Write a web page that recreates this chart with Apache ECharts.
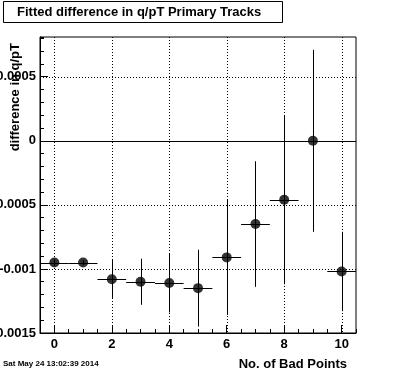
<!DOCTYPE html>
<html>
<head>
<meta charset="utf-8">
<script src="https://cdn.jsdelivr.net/npm/echarts@6/dist/echarts.min.js"></script>
<style>
html,body{margin:0;padding:0;background:#fff;}
#main{width:396px;height:372px;}
</style>
</head>
<body>
<div id="main"></div>
<script>
// ---- data ----
const badPoints = [0, 1, 2, 3, 4, 5, 6, 7, 8, 9, 10];
const meanDiff  = [-0.00095, -0.00095, -0.00108, -0.00110, -0.00111, -0.00115, -0.00091, -0.00065, -0.00046, 0.0000, -0.00102];
const diffError = [0.00002, 0.00002, 0.00015, 0.00018, 0.00023, 0.00030, 0.00045, 0.00049, 0.00066, 0.00071, 0.00031];
const binHalfWidth = [0.5, 0.5, 0.5, 0.5, 0.5, 0.5, 0.5, 0.5, 0.5, 0.5, 0.5];
const xTickValues = [0, 2, 4, 6, 8, 10];
const yTickValues = [-0.0015, -0.001, -0.0005, 0, 0.0005];
const yGridValues = [-0.0015, -0.001, -0.0005, 0.0005];
const xMin = -0.5, xMax = 10.5, yMin = -0.0015, yMax = 0.00081;

const FONT = '"Liberation Sans", Arial, Helvetica, sans-serif';
const chart = echarts.init(document.getElementById('main'), null, {renderer: 'canvas'});

const points = badPoints.map((x, i) => [x, meanDiff[i], binHalfWidth[i], diffError[i]]);
const px = v => Math.round(v) + 0.5;

function gridLineV(params, api) {
  const cs = params.coordSys;
  const p = api.coord([api.value(0), 0]);
  const x = px(p[0]);
  return {type: 'line', shape: {x1: x, y1: cs.y, x2: x, y2: cs.y + cs.height},
    style: {stroke: '#000', lineWidth: 1, lineDash: [1, 2]}, silent: true};
}
function gridLineH(params, api) {
  const cs = params.coordSys;
  const p = api.coord([0, api.value(0)]);
  const y = px(p[1]);
  const solid = api.value(1) === 1;
  return {type: 'line', shape: {x1: cs.x, y1: y, x2: cs.x + cs.width, y2: y},
    style: {stroke: '#000', lineWidth: 1, lineDash: solid ? null : [1, 2]}, silent: true};
}
function errorBars(params, api) {
  const x = api.value(0), y = api.value(1), ex = api.value(2), ey = api.value(3);
  const l = api.coord([x - ex, y]), r = api.coord([x + ex, y]);
  const t = api.coord([x, y + ey]), b = api.coord([x, y - ey]);
  const cy = px(l[1]), cx = px(t[0]);
  return {type: 'group', children: [
    {type: 'line', shape: {x1: l[0], y1: cy, x2: r[0], y2: cy}, style: {stroke: '#000', lineWidth: 1}},
    {type: 'line', shape: {x1: cx, y1: t[1], x2: cx, y2: b[1]}, style: {stroke: '#000', lineWidth: 1}}
  ]};
}

const labelStyle = {color: '#000', fontFamily: FONT, fontWeight: 'bold', fontSize: 13};

chart.setOption({
  animation: false,
  backgroundColor: '#fff',
  grid: {left: 40, top: 37, right: 40, bottom: 39, containLabel: false, outerBoundsMode: 'none',
         show: true, borderColor: '#000', borderWidth: 1, backgroundColor: 'transparent'},
  xAxis: [
    {type: 'value', min: xMin, max: xMax, interval: 0.5, position: 'bottom',
     axisLine: {show: true, onZero: false, lineStyle: {color: '#000', width: 1}},
     axisTick: {show: true, inside: true, length: 4, lineStyle: {color: '#000'}},
     axisLabel: {show: false}, splitLine: {show: false}},
    {type: 'value', min: xMin, max: xMax, position: 'bottom',
     axisLine: {show: false, onZero: false},
     axisTick: {show: true, inside: true, length: 8, customValues: xTickValues, lineStyle: {color: '#000'}},
     axisLabel: Object.assign({show: true, margin: 5, customValues: xTickValues, formatter: v => String(v)}, labelStyle),
     splitLine: {show: false}}
  ],
  yAxis: [
    {type: 'value', min: yMin, max: yMax, interval: 0.0001, position: 'left',
     axisLine: {show: true, onZero: false, lineStyle: {color: '#000', width: 1}},
     axisTick: {show: true, inside: true, length: 4, lineStyle: {color: '#000'}},
     axisLabel: {show: false}, splitLine: {show: false}},
    {type: 'value', min: yMin, max: yMax, position: 'left',
     axisLine: {show: false, onZero: false},
     axisTick: {show: true, inside: true, length: 8, customValues: yTickValues, lineStyle: {color: '#000'}},
     axisLabel: Object.assign({show: true, margin: 4, customValues: yTickValues,
       formatter: v => String(Math.round(v * 1e5) / 1e5)}, labelStyle),
     splitLine: {show: false}}
  ],
  graphic: [
    {type: 'rect', shape: {x: 3.5, y: 1.5, width: 279, height: 21}, style: {fill: '#fff', stroke: '#000', lineWidth: 1}, z: 10},
    {type: 'text', x: 17, y: 12, style: {text: 'Fitted difference in q/pT Primary Tracks', fill: '#000', font: 'bold 13px ' + FONT, verticalAlign: 'middle'}, z: 11},
    {type: 'text', x: 15, y: 43, rotation: Math.PI / 2, style: {text: 'difference in q/pT', fill: '#000', font: 'bold 13px ' + FONT, align: 'right', verticalAlign: 'middle'}, z: 11},
    {type: 'text', x: 347, y: 364, style: {text: 'No. of Bad Points', fill: '#000', font: 'bold 13px ' + FONT, align: 'right', verticalAlign: 'middle'}, z: 11},
    {type: 'text', x: 3, y: 364, style: {text: 'Sat May 24 13:02:39 2014', fill: '#000', font: 'bold 8px ' + FONT, verticalAlign: 'middle'}, z: 11}
  ],
  series: [
    {type: 'custom', name: 'xgrid', xAxisIndex: 0, yAxisIndex: 0, data: xTickValues.map(v => [v, 0]),
     encode: {x: 0, y: 1}, renderItem: gridLineV, silent: true, z: 1},
    {type: 'custom', name: 'ygrid', xAxisIndex: 0, yAxisIndex: 0,
     data: yGridValues.map(v => [v, 0]).concat([[0, 1]]),
     encode: {y: 0}, renderItem: gridLineH, silent: true, z: 1},
    {type: 'custom', name: 'errors', xAxisIndex: 0, yAxisIndex: 0, data: points,
     encode: {x: 0, y: 1}, renderItem: errorBars, silent: true, z: 3},
    {type: 'scatter', name: 'points', xAxisIndex: 0, yAxisIndex: 0, data: points.map(p => [p[0], p[1]]),
     symbol: 'circle', symbolSize: 10, itemStyle: {color: '#000'}, silent: true, z: 5}
  ]
});
</script>
</body>
</html>
